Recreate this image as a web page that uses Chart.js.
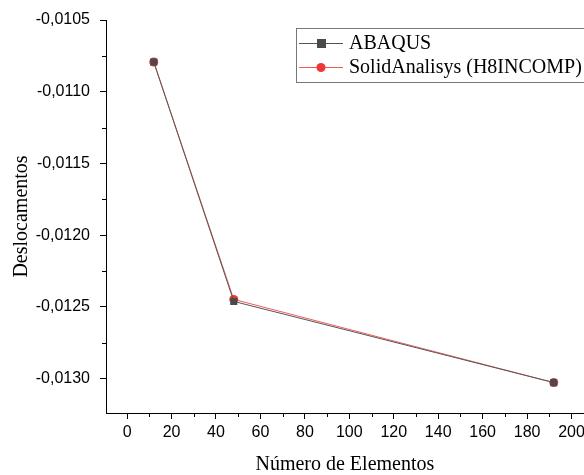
<!DOCTYPE html>
<html>
<head>
<meta charset="utf-8">
<script src="https://cdn.jsdelivr.net/npm/chart.js@4/dist/chart.umd.min.js"></script>
<style>
   html, body { margin: 0; padding: 0; background: #fff; overflow: hidden; }
   /* a little wider than the window so the plot area runs to the right edge, as in the cropped original */
   #wrap { width: 589px; height: 475px; }
</style>
</head>
<body>
<div id="wrap"><canvas id="myChart"></canvas></div>
<script>
// Data
const elementos = [12, 48, 192];
const abaqus = [-0.010793, -0.012462, -0.013028];
const solidAnalisys = [-0.010793, -0.012448, -0.013028];

const seriesNames = ['ABAQUS', 'SolidAnalisys (H8INCOMP)'];

const xTicks = [0, 20, 40, 60, 80, 100, 120, 140, 160, 180, 200];
const xMinorTicks = [10, 30, 50, 70, 90, 110, 130, 150, 170, 190];
const yTicks = [-0.0105, -0.0110, -0.0115, -0.0120, -0.0125, -0.0130];
const yMinorTicks = [-0.01075, -0.01125, -0.01175, -0.01225, -0.01275];

const toPoints = (xs, ys) => xs.map((x, i) => ({ x: x, y: ys[i] }));

// Minor ticks (Origin style), placed through the chart scales
const minorTicks = {
   id: 'minorTicks',
   afterDraw(chart) {
      const { ctx, chartArea, scales } = chart;
      ctx.save();
      ctx.strokeStyle = '#000';
      ctx.lineWidth = 1;
      ctx.beginPath();
      xMinorTicks.forEach(v => {
         const px = Math.round(scales.x.getPixelForValue(v)) + 0.5;
         ctx.moveTo(px, chartArea.bottom);
         ctx.lineTo(px, chartArea.bottom + 4);
      });
      yMinorTicks.forEach(v => {
         const py = Math.round(scales.y.getPixelForValue(v)) + 0.5;
         ctx.moveTo(chartArea.left, py);
         ctx.lineTo(chartArea.left - 4, py);
      });
      ctx.stroke();
      ctx.restore();
   }
};

// Boxed legend in the top right corner
const boxLegend = {
   id: 'boxLegend',
   afterDraw(chart) {
      const ctx = chart.ctx;
      const left = 296, top = 28, rowH = 24;
      ctx.save();
      ctx.strokeStyle = '#777';
      ctx.lineWidth = 1;
      ctx.strokeRect(left + 0.5, top + 0.5, 320, 54);
      chart.data.datasets.forEach((ds, i) => {
         const y = top + 15 + i * rowH;
         ctx.strokeStyle = ds.borderColor;
         ctx.beginPath();
         ctx.moveTo(left + 3, y + 0.5);
         ctx.lineTo(left + 47, y + 0.5);
         ctx.stroke();
         ctx.fillStyle = ds.pointBackgroundColor;
         if (ds.pointStyle === 'rect') {
            ctx.fillRect(left + 21, y - 4, 9, 9);
         } else {
            ctx.beginPath();
            ctx.arc(left + 25, y + 0.5, 4.5, 0, Math.PI * 2);
            ctx.fill();
         }
         ctx.fillStyle = '#000';
         ctx.font = '20px "Liberation Serif", "Times New Roman", serif';
         ctx.textBaseline = 'middle';
         ctx.fillText(ds.label, left + 53, y + 1);
      });
      ctx.restore();
   }
};

const ctx = document.querySelector('#myChart');

const data = {
   datasets: [
      {
         label: seriesNames[0],
         data: toPoints(elementos, abaqus),
         borderColor: '#555',
         borderWidth: 1,
         pointStyle: 'rect',
         pointRadius: 5,
         pointBackgroundColor: '#4a4a4a',
         pointBorderWidth: 0
      },
      {
         label: seriesNames[1],
         data: toPoints(elementos, solidAnalisys),
         borderColor: '#f25a5a',
         borderWidth: 1,
         pointStyle: 'circle',
         pointRadius: 4.5,
         pointBackgroundColor: '#ee3636',
         pointBorderWidth: 0
      }
   ]
};

const tickFont = { family: '"Liberation Sans", Arial, sans-serif', size: 16 };
const titleFont = { family: '"Liberation Serif", "Times New Roman", serif', size: 20, lineHeight: 1 };

const config = {
   type: 'line',
   data: data,
   options: {
      responsive: true,
      maintainAspectRatio: false,
      animation: false,
      layout: { padding: { top: 20, right: 0, left: 0, bottom: 0 } },
      plugins: {
         legend: { display: false },
         tooltip: { enabled: false }
      },
      scales: {
         x: {
            type: 'linear',
            min: -9.5,
            max: 205.5,
            afterFit: scale => { scale.height = 62; },
            afterBuildTicks: scale => { scale.ticks = xTicks.map(v => ({ value: v })); },
            grid: { drawOnChartArea: false, drawTicks: true, tickLength: 6, color: '#000' },
            border: { display: true, color: '#000', width: 1 },
            ticks: { color: '#000', font: tickFont, padding: 4, maxRotation: 0, autoSkip: false },
            title: { display: true, text: 'Número de Elementos', color: '#000', font: titleFont, padding: { top: 0, bottom: 0 } }
         },
         y: {
            type: 'linear',
            min: -0.01324,
            max: -0.0105,
            afterFit: scale => { scale.width = 106; },
            afterBuildTicks: scale => { scale.ticks = yTicks.map(v => ({ value: v })); },
            grid: { drawOnChartArea: false, drawTicks: true, tickLength: 6, color: '#000' },
            border: { display: true, color: '#000', width: 1 },
            ticks: {
               color: '#000',
               font: tickFont,
               padding: 10,
               autoSkip: false,
               callback: v => v.toFixed(4).replace('.', ',')
            },
            title: { display: true, text: 'Deslocamentos', color: '#000', font: titleFont, padding: { top: 12, bottom: 0 } }
         }
      }
   },
   plugins: [minorTicks, boxLegend]
};

const lineChart = new Chart(ctx, config);
</script>
</body>
</html>
